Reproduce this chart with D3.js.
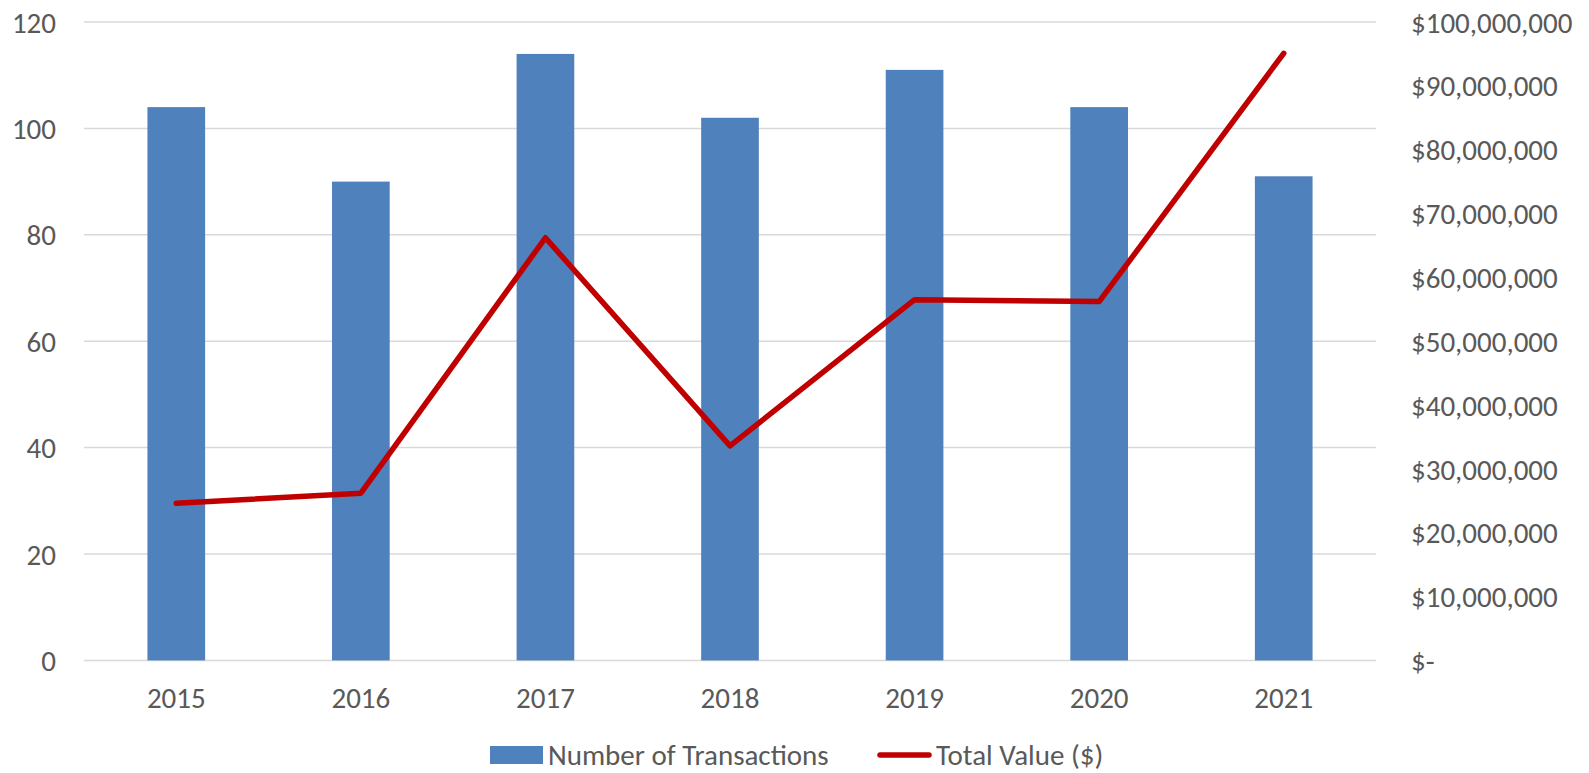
<!DOCTYPE html>
<html>
<head>
<meta charset="utf-8">
<script src="https://cdn.jsdelivr.net/npm/d3@7"></script>
<style>
  body { margin: 0; background: #ffffff; }
  svg text { font-family: Carlito, Calibri, "Liberation Sans", Arial, sans-serif; fill: #595959; }
</style>
</head>
<body>
<div id="chart"></div>
<script>
const years = ["2015", "2016", "2017", "2018", "2019", "2020", "2021"];
const transactions = [104, 90, 114, 102, 111, 104, 91];
const totalValue = [24600000, 26200000, 66200000, 33600000, 56500000, 56200000, 95100000];
const leftTicks = [0, 20, 40, 60, 80, 100, 120];
const rightTicks = [0, 10000000, 20000000, 30000000, 40000000, 50000000, 60000000, 70000000, 80000000, 90000000, 100000000];
const seriesNames = ["Number of Transactions", "Total Value ($)"];

const width = 1589, height = 773;
const plot = {left: 84, right: 1376, top: 22, bottom: 660.4};
const barColor = "#4F81BD", lineColor = "#C00000", gridColor = "#D9D9D9";
const fontSize = 29;

const svg = d3.select("#chart").append("svg")
  .attr("width", width)
  .attr("height", height);

const x = d3.scaleBand().domain(years)
  .range([plot.left, plot.right])
  .paddingInner(0.6875)
  .paddingOuter(0.34375);

const yLeft = d3.scaleLinear().domain([0, 120]).range([plot.bottom, plot.top]);
const yRight = d3.scaleLinear().domain([0, 100000000]).range([plot.bottom, plot.top]);

// gridlines
svg.append("g")
  .selectAll("line")
  .data(leftTicks)
  .join("line")
  .attr("x1", plot.left)
  .attr("x2", plot.right)
  .attr("y1", d => yLeft(d))
  .attr("y2", d => yLeft(d))
  .attr("stroke", gridColor)
  .attr("stroke-width", 1.5);

// left axis
const leftAxis = svg.append("g")
  .attr("transform", "translate(" + (plot.left - 28) + ",0)")
  .call(d3.axisLeft(yLeft).tickValues(leftTicks).tickSize(0).tickPadding(0));
leftAxis.select(".domain").remove();
leftAxis.selectAll("text").attr("font-size", fontSize).attr("dy", "0.35em").attr("fill", "#595959");

// right axis
const fmtMoney = d => d === 0 ? "$-" : "$" + d3.format(",")(d);
const rightAxis = svg.append("g")
  .attr("transform", "translate(" + (plot.right + 35) + ",0)")
  .call(d3.axisRight(yRight).tickValues(rightTicks).tickFormat(fmtMoney).tickSize(0).tickPadding(0));
rightAxis.select(".domain").remove();
rightAxis.selectAll("text").attr("font-size", fontSize).attr("dy", "0.35em").attr("fill", "#595959");

// bottom axis
const bottomAxis = svg.append("g")
  .attr("transform", "translate(0," + plot.bottom + ")")
  .call(d3.axisBottom(x).tickSize(0).tickPadding(0));
bottomAxis.select(".domain").remove();
bottomAxis.selectAll("text").attr("font-size", fontSize).attr("dy", "0").attr("y", 48).attr("fill", "#595959");

// bars
svg.append("g")
  .selectAll("rect")
  .data(years.map((y, i) => ({year: y, value: transactions[i]})))
  .join("rect")
  .attr("x", d => x(d.year))
  .attr("y", d => yLeft(d.value))
  .attr("width", x.bandwidth())
  .attr("height", d => yLeft(0) - yLeft(d.value))
  .attr("fill", barColor);

// line
const line = d3.line()
  .x(d => x(d.year) + x.bandwidth() / 2)
  .y(d => yRight(d.value));

svg.append("path")
  .datum(years.map((y, i) => ({year: y, value: totalValue[i]})))
  .attr("d", line)
  .attr("fill", "none")
  .attr("stroke", lineColor)
  .attr("stroke-width", 5.5)
  .attr("stroke-linecap", "round")
  .attr("stroke-linejoin", "round");

// legend
const legend = svg.append("g").attr("transform", "translate(0,755)");
legend.append("rect")
  .attr("x", 490).attr("y", -9)
  .attr("width", 53).attr("height", 18)
  .attr("fill", barColor);
legend.append("text")
  .attr("x", 548).attr("y", 0).attr("dy", "0.35em")
  .attr("font-size", fontSize)
  .text(seriesNames[0]);
legend.append("line")
  .attr("x1", 880).attr("x2", 929)
  .attr("y1", 0).attr("y2", 0)
  .attr("stroke", lineColor)
  .attr("stroke-width", 5.5)
  .attr("stroke-linecap", "round");
legend.append("text")
  .attr("x", 936).attr("y", 0).attr("dy", "0.35em")
  .attr("font-size", fontSize)
  .text(seriesNames[1]);
</script>
</body>
</html>
